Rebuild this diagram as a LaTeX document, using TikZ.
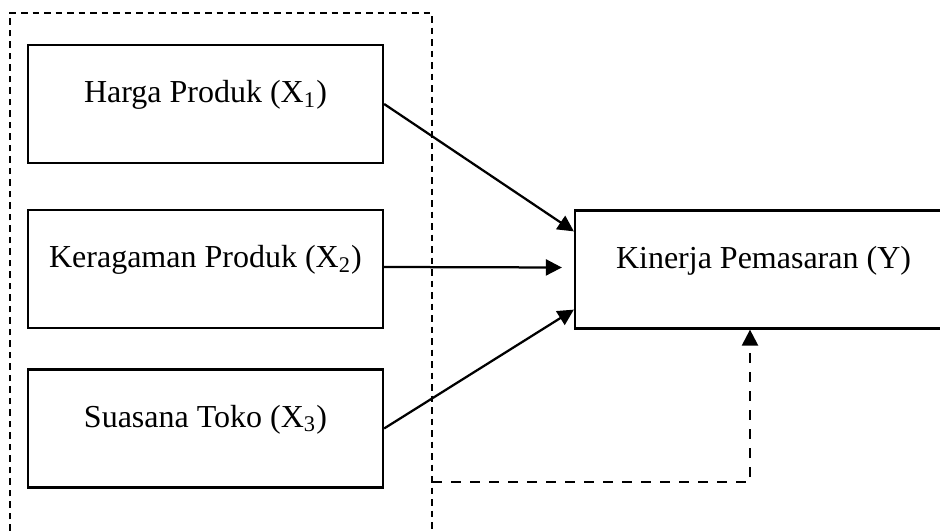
\documentclass[tikz,border=0pt]{standalone}
\usepackage{fontspec}
\setmainfont{Liberation Serif}
\usetikzlibrary{arrows.meta,calc,positioning}

\begin{document}
\begin{tikzpicture}[x=0.4pt, y=-0.4pt, font=\fontsize{12.8}{15}\selectfont]
    \tikzset{VarStyle/.style = {draw, line width=0.9pt, rectangle,
        minimum width=142pt, minimum height=47.2pt,
        text height=8.5pt, text depth=9.5pt, inner sep=0pt},
      EdgeStyle/.style = {line width=0.9pt, -{Triangle[length=6.4pt,width=6.4pt]}},
      FrameStyle/.style = {line width=0.9pt, dash pattern=on 2.6pt off 2pt}}
    \path[use as bounding box, clip] (0,0) rectangle (940,531);
    \node[VarStyle] (hp) at (205.5,104) {Harga Produk (X\textsubscript{1})};
    \node[VarStyle] (kp) at (205.5,269) {Keragaman Produk (X\textsubscript{2})};
    \node[VarStyle] (st) at (205.5,428.5) {Suasana Toko (X\textsubscript{3})};
    \node[VarStyle, minimum width=150.8pt] (km) at (763.5,269.5) {Kinerja Pemasaran (Y)};
    \draw[FrameStyle] (10,531) |- (432,13) -- (432,531);
    \coordinate (fr) at (432,482);
    \draw[EdgeStyle] (hp.east) -- ([yshift=-8.8pt]km.north west);
    \draw[EdgeStyle] ([yshift=0.8pt]kp.east) -- ([xshift=-4.8pt,yshift=0.8pt]km.west);
    \draw[EdgeStyle] (st.east) -- ([yshift=8pt]km.south west);
    \draw[EdgeStyle, dash pattern=on 4pt off 3.6pt] (fr) -| ([xshift=-5.4pt]km.south);
  \end{tikzpicture}
\end{document}
